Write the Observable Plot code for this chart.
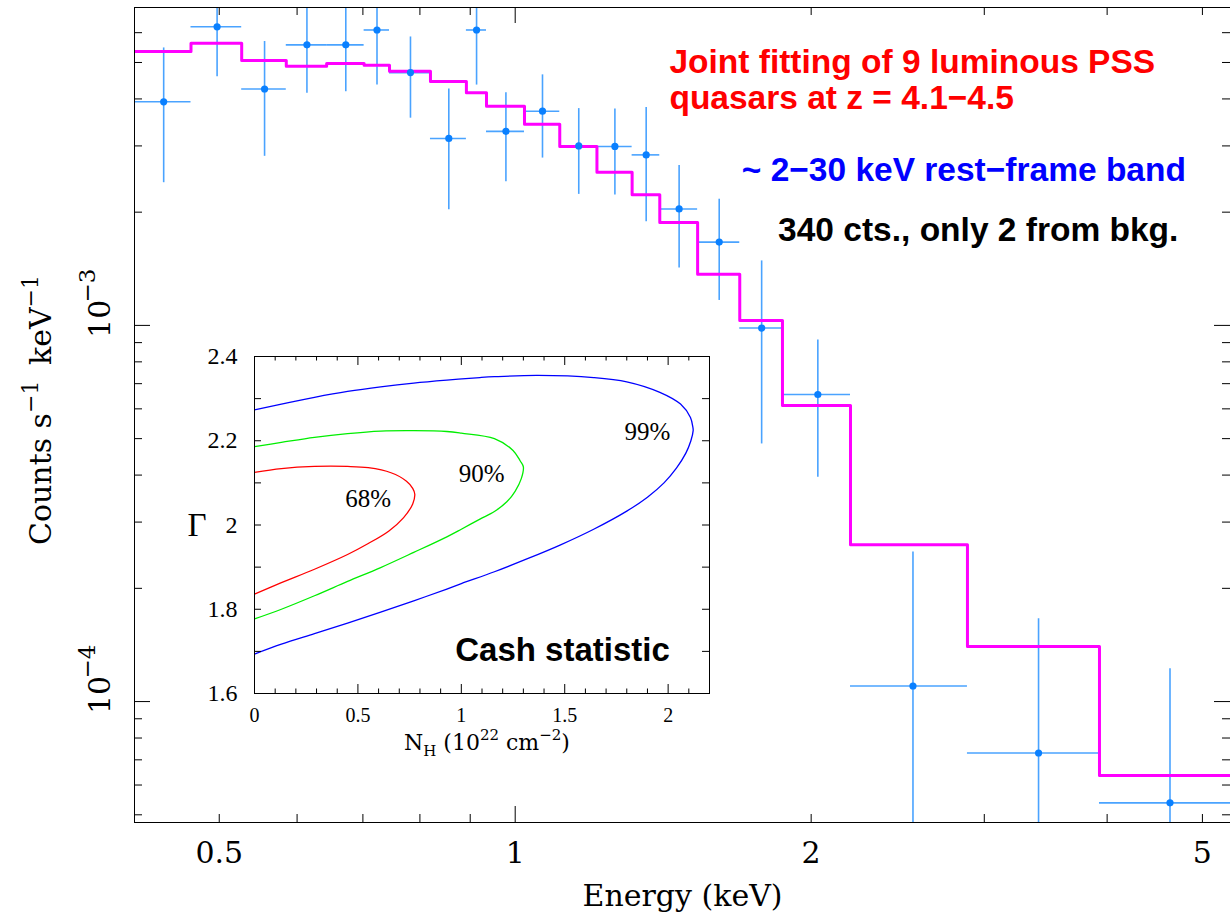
<!DOCTYPE html>
<html>
<head>
<meta charset="utf-8">
<script src="https://cdn.jsdelivr.net/npm/d3@7"></script>
<script src="https://cdn.jsdelivr.net/npm/@observablehq/plot@0.6"></script>
<style>
  html, body { margin: 0; padding: 0; background: #fff; }
  #chart { position: relative; width: 1230px; height: 916px; overflow: hidden; }
  #main svg, #inset svg { display: block; }
  #inset { position: absolute; left: 164px; top: 336px; }
</style>
</head>
<body>
<div id="chart"><div id="main"></div><div id="inset"></div></div>
<script>
// ---- Stacked spectrum: grouped energy channels (keV) ----
const binEdges = [0.410, 0.468, 0.527, 0.585, 0.643, 0.702, 0.745, 0.820, 0.892, 0.935,
                  1.022, 1.110, 1.211, 1.315, 1.403, 1.533, 1.692, 1.870, 2.193, 2.884, 3.929, 5.34];
// observed rate per channel (counts s^-1 keV^-1) and its 1-sigma error
const counts = [3.93e-3, 6.22e-3, 4.25e-3, 5.57e-3, 5.57e-3, 6.10e-3, 4.70e-3, 3.14e-3, 6.10e-3, 3.28e-3,
                3.71e-3, 3.00e-3, 2.99e-3, 2.84e-3, 2.04e-3, 1.665e-3, 0.984e-3, 0.655e-3, 1.10e-4, 7.30e-5, 5.38e-5];
const countErr = [1.535e-3, 1.64e-3, 1.435e-3, 1.43e-3, 1.39e-3, 1.746e-3, 1.145e-3, 1.11e-3, 1.746e-3, 0.872e-3,
                  0.925e-3, 0.77e-3, 0.77e-3, 0.953e-3, 0.62e-3, 0.50e-3, 0.50e-3, 0.26e-3, 1.40e-4, 9.3e-5, 6.84e-5];
// folded best-fit power-law model per channel
const model = [5.344e-3, 5.623e-3, 5.058e-3, 4.885e-3, 4.966e-3, 4.915e-3, 4.737e-3, 4.447e-3, 4.157e-3, 3.825e-3,
               3.428e-3, 2.988e-3, 2.555e-3, 2.224e-3, 1.876e-3, 1.367e-3, 1.031e-3, 6.125e-4, 2.611e-4, 1.400e-4, 6.356e-5];

const xTickLabels = [0.5, 1, 2, 5];
const xMajorTicks = [1];
const xMinorTicks = [0.5, 0.6, 0.7, 0.8, 0.9, 2, 3, 4, 5];
const yMajorTicks = [1e-4, 1e-3];
const yMinorTicks = [5e-5, 6e-5, 7e-5, 8e-5, 9e-5, 2e-4, 3e-4, 4e-4, 5e-4, 6e-4, 7e-4, 8e-4, 9e-4,
                     2e-3, 3e-3, 4e-3, 5e-3, 6e-3, 7e-3];

const fitNote = "Joint fitting of 9 luminous PSS\nquasars at z = 4.1\u22124.5";
const bandNote = "~ 2\u221230 keV rest\u2212frame band";
const countsNote = "340 cts., only 2 from bkg.";

// ---- Confidence contours: N_H (1e22 cm^-2) vs photon index Gamma ----
const contour68 = [[0, 2.125], [0.13, 2.134], [0.29, 2.139], [0.45, 2.139], [0.55, 2.136], [0.66, 2.124],
  [0.735, 2.104], [0.765, 2.087], [0.775, 2.073], [0.765, 2.050], [0.72, 2.017], [0.65, 1.986], [0.55, 1.956],
  [0.45, 1.930], [0.29, 1.895], [0.13, 1.863], [0, 1.836]];
const contour90 = [[0, 2.186], [0.13, 2.196], [0.29, 2.208], [0.45, 2.217], [0.61, 2.223], [0.77, 2.224],
  [0.93, 2.222], [1.00, 2.218], [1.16, 2.205], [1.25, 2.177], [1.285, 2.152], [1.300, 2.138], [1.29, 2.110],
  [1.26, 2.080], [1.22, 2.055], [1.16, 2.032], [1.09, 2.014], [1.00, 1.990], [0.93, 1.972], [0.77, 1.935],
  [0.61, 1.899], [0.45, 1.866], [0.29, 1.832], [0.13, 1.800], [0, 1.777]];
const contour99 = [[0, 2.2735], [0.13, 2.287], [0.29, 2.303], [0.45, 2.317], [0.61, 2.328], [0.77, 2.337],
  [0.93, 2.344], [1.09, 2.350], [1.16, 2.352], [1.37, 2.355], [1.64, 2.350], [1.80, 2.340], [1.96, 2.315],
  [2.06, 2.287], [2.108, 2.255], [2.12, 2.231], [2.121, 2.224], [2.11, 2.200], [2.085, 2.170], [2.04, 2.135],
  [1.98, 2.100], [1.90, 2.066], [1.80, 2.033], [1.64, 1.990], [1.48, 1.953], [1.32, 1.920], [1.16, 1.889],
  [1.00, 1.861], [0.93, 1.848], [0.77, 1.820], [0.61, 1.793], [0.45, 1.767], [0.29, 1.742], [0.13, 1.717],
  [0, 1.6935]];
const contourLabels = ["68%", "90%", "99%"];

const insetXMajor = [0, 0.5, 1, 1.5, 2];
const insetXMinor = [0.1, 0.2, 0.3, 0.4, 0.6, 0.7, 0.8, 0.9, 1.1, 1.2, 1.3, 1.4, 1.6, 1.7, 1.8, 1.9, 2.1];
const insetYLabels = [1.6, 1.8, 2, 2.2, 2.4];
const insetYTicks = [1.7, 1.8, 1.9, 2.0, 2.1, 2.2, 2.3];

// ---------------- main spectrum panel ----------------
const W = 1230, H = 916;
const mL = 134, mT = 7, mR = 0, mB = 94;
const frameW = W - mL - mR, frameH = H - mT - mB;
const yDomain = [4.77e-5, 7.0e-3];
const serif = "DejaVu Serif, serif";
const sans = "Liberation Sans, Arial, Helvetica, sans-serif";
const errColor = "#4aa3ff";

const bins = counts.map((c, i) => ({
  lo: binEdges[i], hi: binEdges[i + 1], mid: (binEdges[i] + binEdges[i + 1]) / 2,
  c, e: countErr[i], m: model[i]
}));
const modelPath = bins.map(b => ({x: b.lo, y: b.m}))
  .concat([{x: bins[bins.length - 1].hi, y: bins[bins.length - 1].m}]);

const tickStroke = {stroke: "#000", strokeWidth: 1};

const main = Plot.plot({
  width: W, height: H,
  marginLeft: mL, marginTop: mT, marginRight: mR, marginBottom: mB,
  style: {background: "transparent", overflow: "visible", fontFamily: serif, color: "#000"},
  x: {type: "log", domain: [binEdges[0], binEdges[binEdges.length - 1]]},
  y: {type: "log", domain: yDomain, axis: null},
  marks: [
    // energy-bin widths and count-rate errors
    Plot.ruleY(bins, {y: "c", x1: "lo", x2: "hi", stroke: errColor, strokeWidth: 1.6, clip: true}),
    Plot.ruleX(bins, {x: "mid", y1: b => (b.c - b.e > 0 ? b.c - b.e : yDomain[0] / 2), y2: b => b.c + b.e,
                      stroke: errColor, strokeWidth: 1.6, clip: true}),
    // folded model histogram
    Plot.line(modelPath, {x: "x", y: "y", curve: "step-after", stroke: "#ff00ff", strokeWidth: 3, clip: true}),
    Plot.dot(bins, {x: "mid", y: "c", r: 3.6, fill: "#0a80ff"}),

    // inward ticks on all four sides
    Plot.ruleX(xMinorTicks, {x: d => d, insetTop: frameH - 8, ...tickStroke}),
    Plot.ruleX(xMinorTicks, {x: d => d, insetBottom: frameH - 8, ...tickStroke}),
    Plot.ruleX(xMajorTicks, {x: d => d, insetTop: frameH - 16, ...tickStroke}),
    Plot.ruleX(xMajorTicks, {x: d => d, insetBottom: frameH - 16, ...tickStroke}),
    Plot.ruleY(yMinorTicks, {y: d => d, insetRight: frameW - 8, ...tickStroke}),
    Plot.ruleY(yMinorTicks, {y: d => d, insetLeft: frameW - 8, ...tickStroke}),
    Plot.ruleY(yMajorTicks, {y: d => d, insetRight: frameW - 16, ...tickStroke}),
    Plot.ruleY(yMajorTicks, {y: d => d, insetLeft: frameW - 16, ...tickStroke}),
    Plot.frame({stroke: "#000", strokeWidth: 1}),

    Plot.axisX({ticks: xTickLabels, tickSize: 0, tickPadding: 19, tickFormat: d => String(d),
                fontSize: 30, fontFamily: serif, label: null}),
    // rotated power-of-ten labels: mantissa and superscript exponent
    Plot.text(yMajorTicks, {y: d => d, frameAnchor: "left", text: () => "10", rotate: -90,
                            dx: -34, dy: 12.5, fontSize: 30, fontFamily: serif, fill: "#000"}),
    Plot.text(yMajorTicks, {y: d => d, frameAnchor: "left", text: d => "\u2212" + Math.round(-Math.log10(d)),
                            rotate: -90, dx: -47, dy: -23, fontSize: 23, fontFamily: serif, fill: "#000"}),
    Plot.text(["Energy (keV)"], {frameAnchor: "bottom", text: d => d, dy: 83, lineAnchor: "bottom",
                                  fontSize: 30, fontFamily: serif, fill: "#000"}),

    // annotations
    Plot.text([fitNote], {x: () => 1.435, y: () => 3.77e-3, text: d => d, textAnchor: "start",
                          lineAnchor: "bottom", lineHeight: 1.07, fontSize: 33.5, fontWeight: "bold",
                          fontFamily: sans, fill: "#ff0000"}),
    Plot.text([bandNote], {x: () => 1.70, y: () => 2.415e-3, text: d => d, textAnchor: "start",
                           lineAnchor: "bottom", fontSize: 33.5, fontWeight: "bold", fontFamily: sans, fill: "#0000ff"}),
    Plot.text([countsNote], {x: () => 1.851, y: () => 1.675e-3, text: d => d, textAnchor: "start",
                             lineAnchor: "bottom", fontSize: 33.5, fontWeight: "bold", fontFamily: sans, fill: "#000"})
  ]
});
document.getElementById("main").appendChild(main);

// y-axis title with superscripts
{
  const t = d3.select(main).append("text")
    .attr("transform", "translate(51,410) rotate(-90)")
    .attr("text-anchor", "middle")
    .attr("font-family", serif).attr("font-size", 30).attr("fill", "#000");
  t.append("tspan").text("Counts s");
  t.append("tspan").attr("dy", -13).attr("font-size", 22).text("\u22121");
  t.append("tspan").attr("dy", 13).attr("dx", 6).text(" keV");
  t.append("tspan").attr("dy", -13).attr("font-size", 22).text("\u22121");
}

// ---------------- inset: confidence contours ----------------
const iW = 565, iH = 437, imL = 90, imT = 20, imR = 20, imB = 80;
const iFrameW = iW - imL - imR, iFrameH = iH - imT - imB;
const iserif = "Liberation Serif, Times New Roman, serif";
const contourStyle = {x: d => d[0], y: d => d[1], strokeWidth: 1.3, curve: "catmull-rom", clip: true};

const inset = Plot.plot({
  width: iW, height: iH,
  marginLeft: imL, marginTop: imT, marginRight: imR, marginBottom: imB,
  style: {background: "transparent", overflow: "visible", fontFamily: iserif, color: "#000"},
  x: {domain: [0, 2.2]},
  y: {domain: [1.6, 2.4]},
  marks: [
    Plot.line(contour99, {...contourStyle, stroke: "#0000ff"}),
    Plot.line(contour90, {...contourStyle, stroke: "#00ee00"}),
    Plot.line(contour68, {...contourStyle, stroke: "#ff0000"}),
    Plot.text([contourLabels[0]], {x: () => 0.549, y: () => 2.061, text: d => d, fontSize: 25, fontFamily: iserif, fill: "#000"}),
    Plot.text([contourLabels[1]], {x: () => 1.098, y: () => 2.120, text: d => d, fontSize: 25, fontFamily: iserif, fill: "#000"}),
    Plot.text([contourLabels[2]], {x: () => 1.900, y: () => 2.220, text: d => d, fontSize: 25, fontFamily: iserif, fill: "#000"}),
    Plot.text(["Cash statistic"], {x: () => 2.008, y: () => 1.678, text: d => d, textAnchor: "end",
                                   lineAnchor: "bottom", fontSize: 33, fontWeight: "bold", fontFamily: sans, fill: "#000"}),

    Plot.ruleX(insetXMajor, {x: d => d, insetTop: iFrameH - 9, ...tickStroke}),
    Plot.ruleX(insetXMajor, {x: d => d, insetBottom: iFrameH - 9, ...tickStroke}),
    Plot.ruleX(insetXMinor, {x: d => d, insetTop: iFrameH - 4.5, ...tickStroke}),
    Plot.ruleX(insetXMinor, {x: d => d, insetBottom: iFrameH - 4.5, ...tickStroke}),
    Plot.ruleY(insetYTicks, {y: d => d, insetRight: iFrameW - 7, ...tickStroke}),
    Plot.ruleY(insetYTicks, {y: d => d, insetLeft: iFrameW - 7, ...tickStroke}),
    Plot.frame({stroke: "#000", strokeWidth: 1}),

    Plot.axisX({ticks: insetXMajor, tickSize: 0, tickPadding: 14, tickFormat: d => String(d),
                fontSize: 20, fontFamily: iserif, label: null}),
    Plot.axisY({ticks: insetYLabels, tickSize: 0, tickPadding: 17, tickFormat: d => String(d),
                fontSize: 24, fontFamily: iserif, label: null}),
    Plot.text(["\u0393"], {frameAnchor: "left", y: () => 2.0, text: d => d, dx: -67,
                           fontSize: 33, fontFamily: iserif, fill: "#000"})
  ]
});
document.getElementById("inset").appendChild(inset);

// inset x-axis title with sub- and superscripts
{
  const t = d3.select(inset).append("text")
    .attr("x", 323).attr("y", 413.5)
    .attr("text-anchor", "middle")
    .attr("font-family", serif).attr("font-size", 22).attr("fill", "#000");
  t.append("tspan").text("N");
  t.append("tspan").attr("dy", 6).attr("font-size", 15).text("H");
  t.append("tspan").attr("dy", -6).text(" (10");
  t.append("tspan").attr("dy", -10).attr("font-size", 15).text("22");
  t.append("tspan").attr("dy", 10).text(" cm");
  t.append("tspan").attr("dy", -10).attr("font-size", 15).text("\u22122");
  t.append("tspan").attr("dy", 10).text(")");
}
</script>
</body>
</html>
